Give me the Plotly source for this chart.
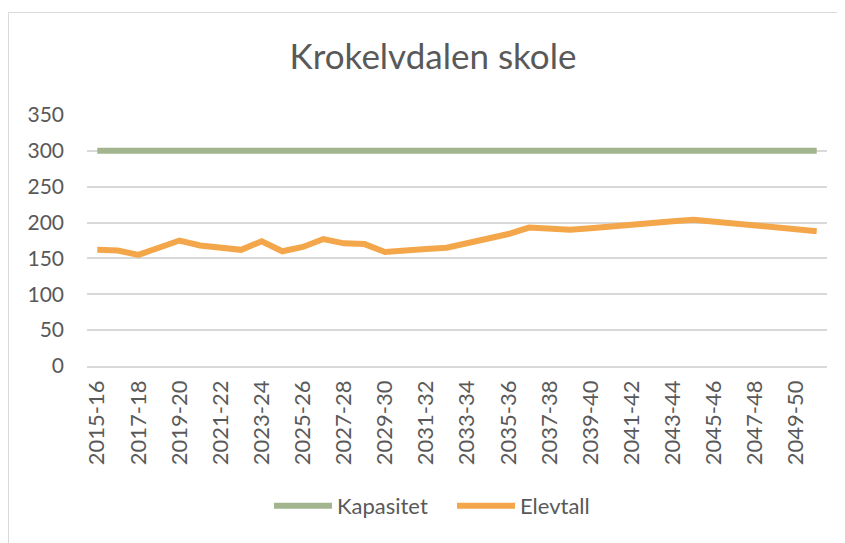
import plotly.graph_objects as go

categories = [f"{y}-{str(y + 1)[2:]}" for y in range(2015, 2051)]
kapasitet = [300] * 36
elevtall = [162, 161, 155, 165, 175, 168, 165, 162, 174, 160, 166, 177, 171, 170,
            159, 162, 163, 165, 171, 179, 184, 193, 192, 190, 192, 195, 198, 200,
            202, 204, 201, 198, 196, 193, 191, 188]
tick_labels = categories[::2]
y_ticks = [0, 50, 100, 150, 200, 250, 300, 350]

FONT = "Lato"
TXT = "#595959"

# page has an 8px body margin, so work in reference pixels minus 8
OFF = 8
W, H = 845 - OFF, 543 - OFF
L, R, T, B = 87 - OFF, 18, 115 - OFF, 543 - 366
pw, ph = W - L - R, H - T - B

def px(x):
    return (x - OFF - L) / pw

def py(y):
    return (H - B - (y - OFF)) / ph

fig = go.Figure()
fig.add_trace(go.Scatter(x=categories, y=kapasitet, mode="lines", name="Kapasitet",
                         line=dict(color="#A2B58F", width=6)))
fig.add_trace(go.Scatter(x=categories, y=elevtall, mode="lines", name="Elevtall",
                         line=dict(color="#F3A64A", width=6)))

border = dict(color="#D9D9D9", width=1)
fig.add_shape(type="line", xref="paper", yref="paper", x0=px(8.5), x1=px(8.5),
              y0=py(560), y1=py(12.5), line=border)
fig.add_shape(type="line", xref="paper", yref="paper", x0=px(8.5), x1=px(870),
              y0=py(12.5), y1=py(12.5), line=border)

fig.update_layout(
    width=W, height=H,
    margin=dict(l=L, r=R, t=T, b=B),
    paper_bgcolor="white", plot_bgcolor="white",
    font=dict(family=FONT, color=TXT, size=21),
    title=dict(text="Krokelvdalen skole", x=(433 - OFF) / W, xref="container", xanchor="center",
               y=1 - (57 - OFF) / H, yref="container", yanchor="middle",
               font=dict(size=35, color=TXT, family=FONT)),
    showlegend=True,
    legend=dict(orientation="h", x=px(452), xanchor="center", y=py(506), yanchor="middle",
                font=dict(size=22, color=TXT, family=FONT), itemwidth=58,
                entrywidth=110, bgcolor="rgba(0,0,0,0)"),
    xaxis=dict(type="category", range=[-0.5, 35.5], tickmode="array",
               tickvals=tick_labels, ticktext=tick_labels, tickangle=-90,
               showgrid=False, showline=True, linecolor="#D9D9D9", linewidth=1.5,
               ticks="", tickfont=dict(size=22, color=TXT), zeroline=False,
               ticklabelstandoff=4),
    yaxis=dict(range=[0, 350], tickmode="array", tickvals=y_ticks,
               showgrid=True, gridcolor="#D9D9D9", gridwidth=1.5,
               showline=False, zeroline=False, ticks="",
               tickfont=dict(size=21, color=TXT), ticklabelstandoff=22),
)

fig.write_html("out.html")
